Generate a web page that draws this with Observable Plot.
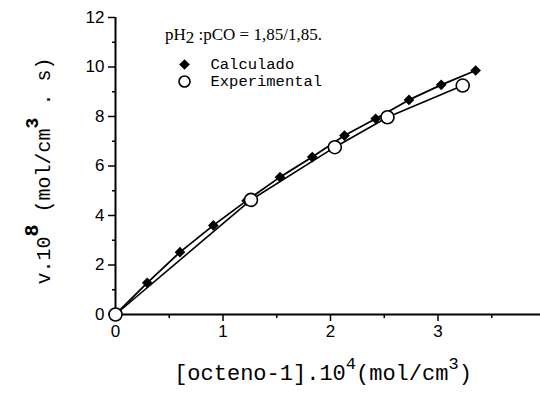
<!DOCTYPE html>
<html>
<head>
<meta charset="utf-8">
<script src="https://cdn.jsdelivr.net/npm/d3@7"></script>
<script src="https://cdn.jsdelivr.net/npm/@observablehq/plot@0.6"></script>
<style>
  html, body { margin: 0; padding: 0; background: #fff; overflow: hidden; }
  #chart { width: 540px; height: 396px; }
</style>
</head>
<body>
<div id="chart"></div>
<script>
// Calculated (filled diamonds)
const calcX = [0, 0.295, 0.60, 0.91, 1.22, 1.53, 1.83, 2.13, 2.42, 2.73, 3.03, 3.35];
const calcY = [0, 1.28, 2.52, 3.60, 4.60, 5.55, 6.36, 7.23, 7.91, 8.67, 9.28, 9.86];
// Experimental (open circles)
const expX = [0, 1.26, 2.04, 2.53, 3.23];
const expY = [0, 4.63, 6.76, 7.97, 9.25];

const xMajor = [0, 1, 2, 3, 4];
const xMinor = [0.5, 1.5, 2.5, 3.5];
const yMajor = [0, 2, 4, 6, 8, 10, 12];
const yMinor = [1, 3, 5, 7, 9, 11];

const legendLabels = ["Calculado", "Experimental"];
const titleMain = "pH";
const titleSub = "2";
const titleRest = " :pCO = 1,85/1,85.";

const calc = calcX.map((x, i) => ({x, y: calcY[i]}));
const exp = expX.map((x, i) => ({x, y: expY[i]}));

const tickFont = "Liberation Sans, Arial, sans-serif";
const monoFont = "Liberation Mono, Courier New, monospace";

const plot = Plot.plot({
  width: 540,
  height: 396,
  marginLeft: 115,
  marginRight: -5,
  marginTop: 17,
  marginBottom: 82,
  style: {background: "white", fontFamily: tickFont, color: "black", overflow: "visible"},
  x: {domain: [0, 4], axis: null},
  y: {domain: [0, 12], axis: null},
  marks: [
    Plot.axisY(yMajor, {anchor: "left", tickSize: 7, tickPadding: 4, fontSize: 17, strokeWidth: 1.5, label: null, tickFormat: d => String(d)}),
    Plot.axisY(yMinor, {anchor: "left", tickSize: 3, strokeWidth: 1.5, label: null, text: null}),
    Plot.axisX(xMajor, {anchor: "bottom", tickSize: 7, tickPadding: 3, fontSize: 17, strokeWidth: 1.5, label: null, tickFormat: d => String(d)}),
    Plot.axisX(xMinor, {anchor: "bottom", tickSize: 4, strokeWidth: 1.5, label: null, text: null}),
    Plot.ruleX([0], {y1: 0, y2: 12, stroke: "black", strokeWidth: 2}),
    Plot.ruleY([0], {x1: 0, x2: 4, stroke: "black", strokeWidth: 2}),
    Plot.line(exp, {x: "x", y: "y", stroke: "black", strokeWidth: 1.6}),
    Plot.line(calc, {x: "x", y: "y", stroke: "black", strokeWidth: 1.8}),
    Plot.dot(calc, {x: "x", y: "y", symbol: "diamond2", r: 4.8, fill: "black"}),
    Plot.dot(exp, {x: "x", y: "y", symbol: "circle", r: 6.5, fill: "white", stroke: "black", strokeWidth: 1.6}),
    // legend
    Plot.dot([legendLabels[0]], {frameAnchor: "top-left", dx: 69, dy: 47, symbol: "diamond2", r: 4.8, fill: "black"}),
    Plot.dot([legendLabels[1]], {frameAnchor: "top-left", dx: 69, dy: 64, symbol: "circle", r: 5.5, fill: "white", stroke: "black", strokeWidth: 1.6}),
    Plot.text([legendLabels[0]], {frameAnchor: "top-left", dx: 95, dy: 47, text: d => d, fontFamily: monoFont, fontSize: 15.5, textAnchor: "start", lineAnchor: "middle", fill: "black"}),
    Plot.text([legendLabels[1]], {frameAnchor: "top-left", dx: 95, dy: 64, text: d => d, fontFamily: monoFont, fontSize: 15.5, textAnchor: "start", lineAnchor: "middle", fill: "black"})
  ]
});

document.getElementById("chart").appendChild(plot);

const svg = d3.select(plot);

// title
const title = svg.append("text")
  .attr("x", 165).attr("y", 40)
  .attr("text-anchor", "start")
  .attr("font-family", "Liberation Serif, Times New Roman, serif")
  .attr("font-size", 17)
  .attr("fill", "black");
title.append("tspan").text(titleMain);
title.append("tspan").attr("dy", 3).attr("font-size", 17).text(titleSub);
title.append("tspan").attr("dy", -3).text(titleRest);

// x label
const xl = svg.append("text")
  .attr("x", 323).attr("y", 380)
  .attr("text-anchor", "middle")
  .attr("font-family", monoFont)
  .attr("font-size", 22)
  .attr("fill", "black");
xl.append("tspan").text("[octeno-1].10");
xl.append("tspan").attr("dy", -11).attr("font-size", 17).text("4");
xl.append("tspan").attr("dy", 11).text("(mol/cm");
xl.append("tspan").attr("dy", -11).attr("font-size", 17).text("3");
xl.append("tspan").attr("dy", 11).text(")");

// y label
const yl = svg.append("text")
  .attr("transform", "translate(50,171) rotate(-90)")
  .attr("text-anchor", "middle")
  .attr("font-family", monoFont)
  .attr("font-size", 20)
  .attr("fill", "black");
yl.append("tspan").text("v.10");
yl.append("tspan").attr("dy", -12).attr("font-size", 20).attr("font-weight", "bold").text("8");
yl.append("tspan").attr("dy", 12).text(" (mol/cm");
yl.append("tspan").attr("dy", -12).attr("font-size", 18).attr("font-weight", "bold").text("3");
yl.append("tspan").attr("dy", 12).text(" . s)");
</script>
</body>
</html>
